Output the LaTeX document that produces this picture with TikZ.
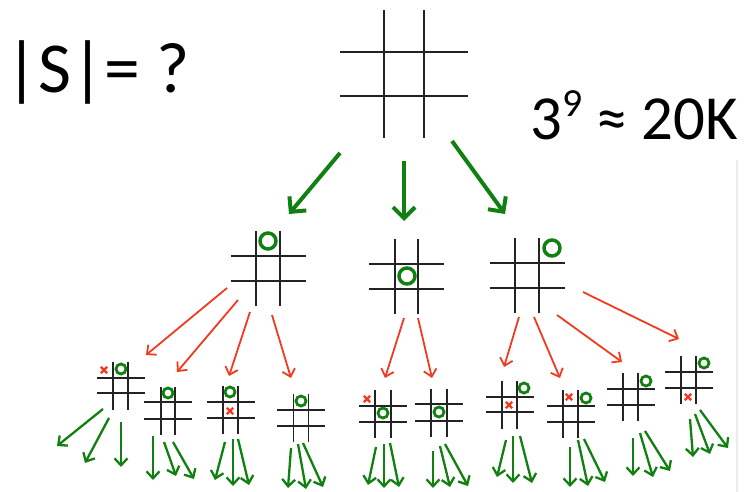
\documentclass[tikz,border=0pt]{standalone}
\usepackage{fontspec}
\setmainfont{Carlito}
\usetikzlibrary{arrows.meta}

\definecolor{movegreen}{RGB}{16,128,16}
\definecolor{movered}{RGB}{242,58,30}
\definecolor{gridgray}{RGB}{35,35,35}
\definecolor{edgetint}{RGB}{230,239,232}

\tikzset{
  gridline/.style={draw=gridgray, line width=1.2bp},
  bigarrow/.style={draw=movegreen, line width=4bp,
    -{Straight Barb[length=11bp,width=22bp]}},
  redarrow/.style={draw=movered, line width=1.8bp,
    -{Straight Barb[length=7bp,width=13bp]}},
  leafarrow/.style={draw=movegreen, line width=2.3bp,
    -{Straight Barb[length=7bp,width=13bp]}},
  omark/.style={draw=movegreen},
  xmark/.style={draw=movered, line width=2.4bp},
}

% board: name, centre x, centre y, half cell width, half cell height, half extent
\newcommand\board[6]{%
  \coordinate (#1) at (#2,#3);
  \begin{scope}[shift={(#2,#3)}]
    \draw[gridline] (-#4,-#6) -- (-#4,#6);
    \draw[gridline] (#4,-#6) -- (#4,#6);
    \draw[gridline] (-#6,-#5) -- (#6,-#5);
    \draw[gridline] (-#6,#5) -- (#6,#5);
  \end{scope}}

% nought: x, y, radius, line width
\newcommand\nought[4]{\draw[omark, line width=#4bp] (#1,#2) circle[radius=#3bp];}
% cross: x, y, half size
\newcommand\cross[3]{%
  \draw[xmark] (#1-#3,#2-#3) -- (#1+#3,#2+#3) (#1-#3,#2+#3) -- (#1+#3,#2-#3);}

\begin{document}
\begin{tikzpicture}[x=1bp, y=-1bp]
  \useasboundingbox (0,0) rectangle (747,492);

  % faint slide edge on the right
  \draw[edgetint, line width=1.5bp] (737,160) -- (737,492);

  % captions
  \node[anchor=base west, inner sep=0pt, font=\fontsize{72}{80}\selectfont]
    (size) at (5,93) {|S|= ?};
  \node[anchor=base west, inner sep=0pt, font=\fontsize{63}{70}\selectfont]
    (count) at (530,140)
    {3\raisebox{23bp}{\fontsize{40}{40}\selectfont 9} ≈ 20K};

  % empty board
  \board{root}{404}{74}{20}{22}{64}

  % first move
  \board{b1}{268}{268.5}{12}{12.5}{37.5}
  \board{b2}{406.5}{276.5}{11.5}{12.5}{37.5}
  \board{b3}{527}{275.5}{12}{12.5}{37.5}
  \nought{268}{241}{8}{3.5}
  \nought{407}{276}{8}{3.5}
  \nought{552}{248}{8}{3.5}

  % second move
  \board{c1}{120.5}{385.5}{7.5}{7.5}{24}
  \board{c2}{168}{410.5}{7}{8.5}{24}
  \board{c3}{230.5}{410}{7.5}{8}{24}
  \board{c4}{301}{418}{7.5}{8}{24}
  \board{c5}{383}{414}{8}{8}{24}
  \board{c6}{439}{412.5}{8}{8.5}{24}
  \board{c7}{509.5}{404.5}{7.5}{7.5}{24}
  \board{c8}{570.5}{414}{7.5}{8}{24}
  \board{c9}{630.5}{397}{7.5}{8}{24}
  \board{c10}{688.5}{380}{7.5}{8}{24}

  \foreach \px/\py in {121/369, 168/393, 230/392, 301/401, 383/413,
                       439/412, 524/388, 586/398, 646/381, 704/363}
    {\nought{\px}{\py}{5}{2.8}}
  \foreach \px/\py in {104/370, 230/411, 367/399, 509/405, 569/397, 688/397}
    {\cross{\px}{\py}{3.2}}

  % root to first move
  \foreach \xa/\ya/\xb/\yb [count=\i] in
    {340/153/289/214, 404/161/404/221, 452/141/505/214}
  {
    \coordinate (ts\i) at (\xa,\ya);
    \coordinate (te\i) at (\xb,\yb);
    \draw[bigarrow] (ts\i) -- (te\i);
  }

  % first move to second move
  \foreach \xa/\ya/\xb/\yb [count=\i] in
    {227/288/146/355, 238/300/177/372, 250/312/229/376, 272/315/291/378,
     404/318/385/378, 418/318/432/378,
     519/317/504/367, 534/317/560/378, 557/315/622/362, 583/292/679/339}
  {
    \coordinate (rs\i) at (\xa,\ya);
    \coordinate (re\i) at (\xb,\yb);
    \draw[redarrow] (rs\i) -- (re\i);
  }

  % further moves
  \foreach \xa/\ya/\xb/\yb [count=\i] in
    {103/409/57/446, 109/418/85/463, 121/422/121/467,
     153/436/153/480, 164/442/176/476, 173/442/194/479,
     225/442/215/480, 233/439/233/486, 238/439/249/485,
     291/448/288/488, 298/444/306/489, 303/443/323/487,
     376/447/368/485, 384/444/384/488, 390/443/399/487,
     433/451/433/488, 440/446/450/487, 445/444/468/486,
     506/440/497/477, 513/436/513/483, 520/436/532/483,
     570/447/570/487, 578/440/588/486, 584/439/605/482,
     633/438/633/476, 640/433/653/477, 645/431/670/471,
     690/419/693/457, 695/414/710/454, 700/410/728/448}
  {
    \coordinate (gs\i) at (\xa,\ya);
    \coordinate (ge\i) at (\xb,\yb);
    \draw[leafarrow] (gs\i) -- (ge\i);
  }
\end{tikzpicture}
\end{document}
